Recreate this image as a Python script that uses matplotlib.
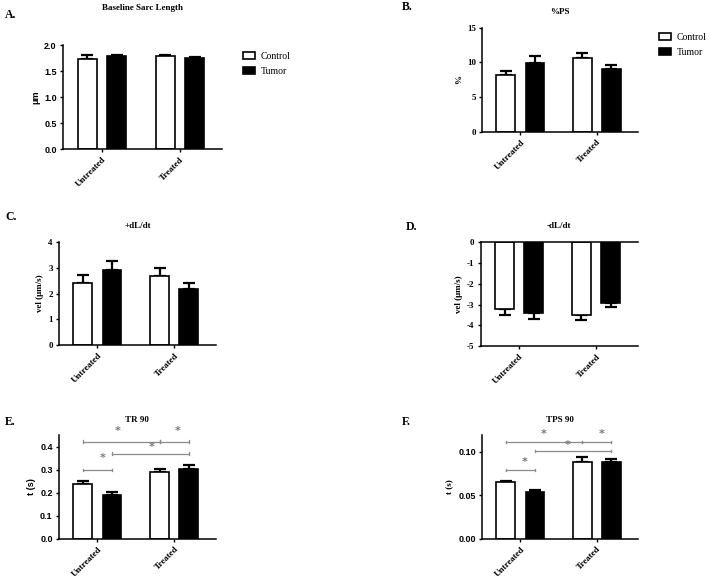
import numpy as np
import matplotlib.pyplot as plt

# Group labels and series
groups = ['Untreated', 'Treated']
series = ['Control', 'Tumor']

# Panel values (Control, Tumor) for each group, plus SEM
sarc_ctrl = [1.73, 1.79]
sarc_tum = [1.79, 1.76]
sarc_ctrl_err = [0.07, 0.02]
sarc_tum_err = [0.02, 0.02]

ps_ctrl = [8.2, 10.6]
ps_tum = [9.9, 9.1]
ps_ctrl_err = [0.6, 0.8]
ps_tum_err = [1.0, 0.6]

pdl_ctrl = [2.40, 2.70]
pdl_tum = [2.92, 2.18]
pdl_ctrl_err = [0.32, 0.28]
pdl_tum_err = [0.35, 0.24]

ndl_ctrl = [-3.20, -3.50]
ndl_tum = [-3.42, -2.90]
ndl_ctrl_err = [0.30, 0.22]
ndl_tum_err = [0.28, 0.20]

tr_ctrl = [0.240, 0.290]
tr_tum = [0.193, 0.305]
tr_ctrl_err = [0.013, 0.015]
tr_tum_err = [0.010, 0.015]

tps_ctrl = [0.065, 0.088]
tps_tum = [0.054, 0.088]
tps_ctrl_err = [0.002, 0.006]
tps_tum_err = [0.002, 0.004]

# significance brackets: (x start, x end, height, star x, star y)
tr_sig = [(-0.19, 0.19, 0.300, 0.07, 0.352),
          (0.19, 1.19, 0.370, 0.70, 0.400),
          (-0.19, 0.81, 0.422, 0.26, 0.470),
          (0.81, 1.19, 0.422, 1.05, 0.470)]
tps_sig = [(-0.19, 0.19, 0.0793, 0.05, 0.0885),
           (0.19, 1.19, 0.101, 0.62, 0.108),
           (-0.19, 0.81, 0.1115, 0.31, 0.1207),
           (0.81, 1.19, 0.1115, 1.06, 0.1207)]

SERIF = 'Liberation Serif'
SANS = 'Liberation Sans'

fig = plt.figure(figsize=(7.1, 5.78), dpi=100)

x = np.arange(len(groups))
W = 0.245
D = 0.19


def panel(rect, ctrl, tum, ctrl_err, tum_err, ylim, yticks, ylabel, title, title_pad,
          letter, letter_pos, tickfont=SERIF, negative=False, legend=None):
    ax = fig.add_axes(rect)
    ax.bar(x - D, ctrl, W, color='white', edgecolor='black', linewidth=1.2, zorder=2)
    ax.bar(x + D, tum, W, color='black', edgecolor='black', linewidth=1.2, zorder=2)
    for xs, vals, errs in [(x - D, ctrl, ctrl_err), (x + D, tum, tum_err)]:
        ax.errorbar(xs, vals,
                    yerr=[[0, 0] if not negative else errs, errs if not negative else [0, 0]],
                    fmt='none', ecolor='black', elinewidth=1.6, capsize=4,
                    capthick=1.6, zorder=1)
    ax.set_xlim(-0.5, 1.54)
    ax.set_ylim(*ylim)
    ax.set_yticks(yticks)
    ax.set_yticklabels([('%g' % t) if tickfont == SERIF else ('%.1f' % t) for t in yticks],
                       fontsize=6.5, fontweight='bold', family=tickfont)
    ax.set_xticks(x)
    ax.set_xticklabels(groups, rotation=45, ha='right', rotation_mode='anchor',
                       fontsize=6.5, fontweight='bold', family=SERIF)
    ax.tick_params(length=2.5, width=1, pad=2)
    ax.spines['right'].set_visible(False)
    ax.spines['top'].set_visible(negative)
    for s in ax.spines.values():
        s.set_linewidth(1.1)
    ax.set_ylabel(ylabel, fontsize=6.5, fontweight='bold',
                  family=SANS if tickfont == SANS else SERIF, labelpad=3)
    ax.set_title(title, fontsize=6.5, fontweight='bold', family=SERIF,
                 pad=title_pad, x=0.5)
    fig.text(letter_pos[0], letter_pos[1], letter, fontsize=8.5, fontweight='bold',
             family=SERIF, va='center')
    if legend is not None:
        ax.legend(series, loc='upper left', bbox_to_anchor=legend, frameon=False,
                  prop={'family': SERIF, 'size': 7}, handlelength=1.2,
                  handleheight=0.7, handletextpad=0.6, borderaxespad=0,
                  labelspacing=0.6)
    return ax


def brackets(ax, sig, tick):
    for x0, x1, h, sx, sy in sig:
        ax.plot([x0, x1], [h, h], color='#8a8a8a', lw=0.9, clip_on=False)
        for xe in (x0, x1):
            ax.plot([xe, xe], [h - tick, h + tick], color='#8a8a8a', lw=0.9, clip_on=False)
        ax.text(sx, sy, '*', ha='center', va='center', fontsize=8, color='#777777',
                fontweight='bold', clip_on=False)


axA = panel([0.0887, 0.742, 0.224, 0.18], sarc_ctrl, sarc_tum, sarc_ctrl_err, sarc_tum_err,
            (0, 2.0), [0, 0.5, 1.0, 1.5, 2.0], 'μm', 'Baseline Sarc Length', 25,
            'A.', (0.007, 0.974), tickfont=SANS, legend=(1.11, 0.97))

axB = panel([0.679, 0.772, 0.22, 0.18], ps_ctrl, ps_tum, ps_ctrl_err, ps_tum_err,
            (0, 15), [0, 5, 10, 15], '%', '%PS', 10, 'B.', (0.566, 0.988),
            legend=(1.11, 0.99))

axC = panel([0.083, 0.403, 0.221, 0.178], pdl_ctrl, pdl_tum, pdl_ctrl_err, pdl_tum_err,
            (0, 4), [0, 1, 2, 3, 4], 'vel (μm/s)', '+dL/dt', 10, 'C.', (0.007, 0.625))

axD = panel([0.677, 0.401, 0.221, 0.18], ndl_ctrl, ndl_tum, ndl_ctrl_err, ndl_tum_err,
            (-5, 0), [-5, -4, -3, -2, -1, 0], 'vel (μm/s)', '-dL/dt', 10, 'D.',
            (0.572, 0.607), negative=True)

axE = panel([0.083, 0.0675, 0.221, 0.18], tr_ctrl, tr_tum, tr_ctrl_err, tr_tum_err,
            (0, 0.452), [0, 0.1, 0.2, 0.3, 0.4], 't (s)', 'TR 90', 9, 'E.', (0.007, 0.27),
            tickfont=SANS)
brackets(axE, tr_sig, 0.006)

axF = panel([0.679, 0.0675, 0.22, 0.18], tps_ctrl, tps_tum, tps_ctrl_err, tps_tum_err,
            (0, 0.1195), [0, 0.05, 0.10], 't (s)', 'TPS 90', 9, 'F.', (0.566, 0.27))
axF.set_yticklabels(['0.00', '0.05', '0.10'], fontsize=6.5, fontweight='bold', family=SANS)
brackets(axF, tps_sig, 0.0016)

fig.savefig('out.png', dpi=100)
